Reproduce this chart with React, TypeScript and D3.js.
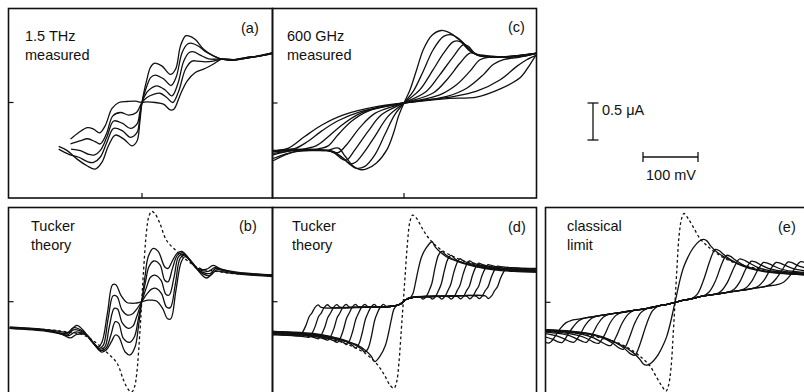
import { useEffect, useRef } from 'react'
import * as d3 from 'd3'

type Pt = [number, number] // [bias mV, current uA]

// (a) 1.5 THz measured
const thz1: Pt[] = [[-151.5,-0.594],[-136,-0.65],[-118,-0.765],[-100,-0.855],[-85,-0.9],[-73,-0.81],[-61,-0.585],[-48.5,-0.44],[-33,-0.495],[-18,-0.585],[-9,-0.52],[-4,-0.27],[0,0],[9,0.315],[15,0.47],[22,0.53],[36,0.495],[51.5,0.38],[61,0.45],[70,0.765],[79,0.9],[85,0.9],[97,0.85],[112,0.72],[130,0.63],[145,0.585],[167,0.576],[191,0.61],[215,0.63],[237,0.67]]
const thz2: Pt[] = [[-151.5,-0.63],[-133,-0.7],[-115,-0.74],[-99,-0.8],[-88,-0.81],[-76,-0.74],[-64,-0.54],[-51.5,-0.35],[-36,-0.38],[-21,-0.47],[-9,-0.405],[-4,-0.2],[0,0],[9,0.225],[16,0.34],[24,0.37],[39,0.32],[53,0.23],[62,0.34],[73,0.675],[83,0.79],[91,0.8],[103,0.76],[118,0.675],[133,0.62],[145,0.585],[167,0.576],[191,0.6],[215,0.63],[237,0.66]]
const thz3: Pt[] = [[-129,-0.63],[-112,-0.65],[-97,-0.7],[-87,-0.71],[-76,-0.65],[-64,-0.47],[-51.5,-0.25],[-36,-0.28],[-21,-0.35],[-9,-0.29],[-4,-0.135],[0,0],[9,0.14],[18,0.2],[27,0.225],[42,0.17],[54.5,0.09],[65,0.25],[76,0.56],[86,0.675],[94,0.685],[106,0.64],[121,0.59],[145,0.585],[167,0.57],[191,0.6],[215,0.63],[237,0.66]]
const thz4: Pt[] = [[-130,-0.56],[-113,-0.52],[-99,-0.49],[-85,-0.53],[-76,-0.56],[-65,-0.43],[-53,-0.18],[-39,-0.135],[-24,-0.17],[-10,-0.135],[0,0],[9,0.0675],[21,0.11],[33,0.125],[45,0.0675],[56,0],[67,0.16],[79,0.45],[91,0.56],[100,0.56],[115,0.55],[130,0.56],[145,0.585],[167,0.576],[191,0.6],[215,0.635],[237,0.67]]
const thz5: Pt[] = [[-130,-0.495],[-115,-0.405],[-99,-0.34],[-88,-0.36],[-77,-0.41],[-67,-0.315],[-54.5,-0.08],[-42,0],[-27,0.0135],[-12,0.018],[0,0],[9,0.009],[24,0],[39,-0.0225],[51.5,-0.1],[58,-0.09],[70,0.1125],[82,0.29],[97,0.405],[112,0.45],[130,0.52],[145,0.585],[167,0.58],[191,0.61],[215,0.63],[237,0.67]]

// (b) Tucker theory at 1.5 THz
const tuckB0: Pt[] = [[-240,-0.36],[-173,-0.4],[-145,-0.44],[-130,-0.49],[-118,-0.44],[-100,-0.45],[-85,-0.59],[-73,-0.68],[-64,-0.65],[-55,-0.54],[-48,-0.45],[-42,-0.47],[-30,-0.68],[-21,-0.72],[-12,-0.61],[-6,-0.34],[0,0],[6,0.34],[12,0.61],[21,0.72],[30,0.68],[42,0.47],[48,0.45],[55,0.54],[64,0.65],[73,0.68],[85,0.59],[100,0.45],[118,0.44],[130,0.49],[145,0.44],[173,0.4],[240,0.36]]
const tuckB1: Pt[] = [[-240,-0.36],[-173,-0.39],[-148,-0.43],[-133,-0.46],[-121,-0.41],[-101,-0.45],[-87,-0.57],[-75,-0.66],[-65,-0.63],[-56,-0.45],[-48,-0.27],[-42,-0.29],[-33,-0.5],[-22,-0.55],[-13,-0.47],[-7,-0.27],[0,0],[7,0.27],[13,0.47],[22,0.55],[33,0.5],[42,0.29],[48,0.27],[56,0.45],[65,0.63],[75,0.66],[87,0.57],[101,0.45],[121,0.41],[133,0.46],[148,0.43],[173,0.39],[240,0.36]]
const tuckB2: Pt[] = [[-240,-0.35],[-176,-0.38],[-152,-0.42],[-135,-0.45],[-124,-0.38],[-103,-0.43],[-88,-0.55],[-76,-0.64],[-67,-0.61],[-59,-0.34],[-50,-0.09],[-44,-0.1],[-35,-0.29],[-24,-0.36],[-16,-0.33],[-9,-0.2],[0,0],[9,0.2],[16,0.33],[24,0.36],[35,0.29],[44,0.1],[50,0.09],[59,0.34],[67,0.61],[76,0.64],[88,0.55],[103,0.43],[124,0.38],[135,0.45],[152,0.42],[176,0.38],[240,0.35]]
const tuckB3: Pt[] = [[-240,-0.35],[-179,-0.38],[-155,-0.41],[-136,-0.43],[-124,-0.35],[-105,-0.41],[-90,-0.54],[-78,-0.63],[-70,-0.59],[-61,-0.23],[-52,0.08],[-45,0.07],[-36,-0.11],[-26,-0.18],[-18,-0.17],[-10,-0.11],[0,0],[10,0.11],[18,0.17],[26,0.18],[36,0.11],[45,-0.07],[52,-0.08],[61,0.23],[70,0.59],[78,0.63],[90,0.54],[105,0.41],[124,0.35],[136,0.43],[155,0.41],[179,0.38],[240,0.35]]
const tuckB4: Pt[] = [[-240,-0.34],[-182,-0.37],[-158,-0.39],[-133,-0.41],[-118,-0.32],[-106,-0.39],[-92,-0.53],[-79,-0.61],[-72,-0.54],[-62,-0.14],[-53,0.23],[-47,0.23],[-38,0.09],[-27,-0.01],[-20,-0.02],[-12,-0.02],[0,0],[12,0.02],[20,0.02],[27,0.01],[38,-0.09],[47,-0.23],[53,-0.23],[62,0.14],[72,0.54],[79,0.61],[92,0.53],[106,0.39],[118,0.32],[133,0.41],[158,0.39],[182,0.37],[240,0.34]]
const tuckBDark: Pt[] = [[-240,-0.36],[-167,-0.38],[-136,-0.41],[-106,-0.45],[-82,-0.56],[-64,-0.68],[-45,-0.83],[-33,-1.06],[-24,-1.19],[-18,-1.22],[-13,-1.15],[-9,-0.97],[-3,-0.38],[0,0],[3,0.38],[9,0.97],[13,1.15],[18,1.22],[24,1.19],[33,1.06],[45,0.83],[64,0.68],[82,0.56],[106,0.45],[136,0.41],[167,0.38],[240,0.36]]

// (c) 600 GHz measured
const ghz1: Pt[] = [[-238,-0.65],[-201,-0.62],[-171,-0.64],[-141,-0.64],[-119,-0.61],[-107,-0.72],[-92,-0.855],[-80,-0.9],[-68,-0.89],[-50,-0.81],[-31,-0.63],[-19,-0.405],[-10,-0.18],[0,0],[11,0.18],[23,0.45],[35,0.72],[50,0.91],[68,0.98],[84,0.945],[96,0.88],[108,0.81],[126,0.675],[150,0.64],[193,0.62],[223,0.64],[242,0.675]]
const ghz2: Pt[] = [[-238,-0.7],[-200,-0.64],[-160,-0.64],[-135,-0.65],[-115,-0.72],[-100,-0.82],[-88,-0.88],[-72,-0.86],[-53,-0.7],[-35,-0.43],[-17,-0.16],[0,0],[17,0.16],[35,0.43],[53,0.72],[72,0.9],[87,0.92],[102,0.855],[120,0.72],[138,0.64],[175,0.62],[223,0.64],[242,0.675]]
const ghz3: Pt[] = [[-238,-0.75],[-200,-0.66],[-160,-0.64],[-130,-0.65],[-110,-0.75],[-98,-0.82],[-88,-0.8],[-72,-0.66],[-53,-0.45],[-29,-0.18],[0,0],[29,0.18],[53,0.45],[72,0.675],[90,0.83],[102,0.83],[120,0.7],[138,0.64],[175,0.62],[242,0.675]]
const ghz4: Pt[] = [[-238,-0.78],[-200,-0.66],[-160,-0.64],[-130,-0.66],[-112,-0.76],[-104,-0.77],[-90,-0.64],[-65,-0.38],[-41,-0.16],[0,0],[41,0.16],[65,0.38],[90,0.63],[108,0.79],[117,0.765],[132,0.65],[162,0.62],[242,0.675]]
const ghz5: Pt[] = [[-238,-0.68],[-180,-0.63],[-140,-0.64],[-120,-0.67],[-104,-0.56],[-80,-0.33],[-53,-0.14],[0,0],[53,0.135],[78,0.315],[102,0.54],[120,0.675],[138,0.64],[175,0.62],[242,0.675]]
const ghz6: Pt[] = [[-238,-0.66],[-190,-0.63],[-156,-0.62],[-138,-0.58],[-120,-0.43],[-96,-0.25],[-65,-0.11],[0,0],[65,0.11],[96,0.25],[120,0.43],[138,0.585],[156,0.62],[199,0.63],[242,0.675]]
const ghz7: Pt[] = [[-238,-0.65],[-190,-0.63],[-160,-0.58],[-140,-0.47],[-115,-0.31],[-85,-0.16],[-45,-0.06],[0,0],[78,0.09],[114,0.2],[144,0.38],[162,0.52],[181,0.585],[211,0.62],[242,0.675]]
const ghz8: Pt[] = [[-238,-0.64],[-200,-0.62],[-175,-0.52],[-150,-0.38],[-120,-0.24],[-80,-0.12],[0,0],[84,0.08],[132,0.16],[175,0.315],[205,0.495],[223,0.585],[242,0.65]]
const ghz9: Pt[] = [[-238,-0.65],[-210,-0.61],[-180,-0.45],[-150,-0.3],[-110,-0.16],[-50,-0.05],[0,0],[78,0.06],[132,0.08],[175,0.19],[211,0.34],[229,0.52],[242,0.675]]

// (d) Tucker theory at 600 GHz
const tuckD0: Pt[] = [[-243,-0.41],[-200,-0.42],[-164,-0.44],[-133,-0.48],[-103,-0.54],[-85,-0.58],[-67,-0.67],[-58,-0.74],[-52,-0.81],[-41,-0.72],[-33,-0.6],[-27,-0.43],[-22,-0.25],[-17,-0.1],[-12,-0.05],[-5,-0.03],[0,0],[5,0.03],[12,0.05],[17,0.1],[22,0.25],[27,0.43],[33,0.6],[41,0.72],[52,0.81],[58,0.74],[67,0.67],[85,0.58],[103,0.54],[133,0.48],[164,0.44],[200,0.42],[243,0.41]]
const tuckD1: Pt[] = [[-243,-0.4],[-200,-0.41],[-164,-0.43],[-133,-0.47],[-103,-0.53],[-86,-0.59],[-76,-0.64],[-70,-0.68],[-64,-0.63],[-58,-0.47],[-52,-0.25],[-47,-0.15],[-42,-0.075],[-36,-0.035],[-30,-0.07],[-25,-0.065],[-12,-0.05],[-5,-0.03],[0,0],[5,0.03],[12,0.05],[25,0.065],[30,0.07],[36,0.035],[42,0.075],[47,0.15],[52,0.25],[58,0.47],[64,0.63],[70,0.68],[76,0.64],[86,0.59],[103,0.53],[133,0.47],[164,0.43],[200,0.41],[243,0.4]]
const tuckD2: Pt[] = [[-243,-0.4],[-180,-0.43],[-145,-0.46],[-120,-0.5],[-103,-0.54],[-93,-0.585],[-87,-0.625],[-81,-0.575],[-75,-0.43],[-69,-0.24],[-64,-0.15],[-59,-0.075],[-53,-0.035],[-47,-0.07],[-25,-0.065],[-12,-0.05],[-5,-0.03],[0,0],[5,0.03],[12,0.05],[25,0.065],[47,0.07],[53,0.035],[59,0.075],[64,0.15],[69,0.24],[75,0.43],[81,0.575],[87,0.625],[93,0.585],[103,0.54],[120,0.5],[145,0.46],[180,0.43],[243,0.4]]
const tuckD3: Pt[] = [[-243,-0.41],[-175,-0.44],[-140,-0.48],[-119,-0.52],[-109,-0.55],[-103,-0.58],[-98,-0.53],[-92,-0.4],[-86,-0.23],[-81,-0.15],[-76,-0.075],[-70,-0.035],[-64,-0.07],[-45,-0.07],[-25,-0.065],[-12,-0.05],[-5,-0.03],[0,0],[5,0.03],[12,0.05],[25,0.065],[45,0.07],[64,0.07],[70,0.035],[76,0.075],[81,0.15],[86,0.23],[92,0.4],[98,0.53],[103,0.58],[109,0.55],[119,0.52],[140,0.48],[175,0.44],[243,0.41]]
const tuckD4: Pt[] = [[-243,-0.42],[-195,-0.43],[-160,-0.46],[-136,-0.5],[-126,-0.53],[-120,-0.55],[-115,-0.5],[-109,-0.38],[-103,-0.22],[-98,-0.15],[-93,-0.075],[-87,-0.035],[-81,-0.07],[-50,-0.07],[-25,-0.065],[-12,-0.05],[-5,-0.03],[0,0],[5,0.03],[12,0.05],[25,0.065],[50,0.07],[81,0.07],[87,0.035],[93,0.075],[98,0.15],[103,0.22],[109,0.38],[115,0.5],[120,0.55],[126,0.53],[136,0.5],[160,0.46],[195,0.43],[243,0.42]]
const tuckD5: Pt[] = [[-243,-0.42],[-180,-0.45],[-155,-0.48],[-143,-0.505],[-137,-0.52],[-132,-0.47],[-126,-0.36],[-120,-0.21],[-115,-0.15],[-110,-0.077],[-104,-0.037],[-98,-0.072],[-60,-0.071],[-25,-0.065],[-12,-0.05],[-5,-0.03],[0,0],[5,0.03],[12,0.05],[25,0.065],[60,0.071],[98,0.072],[104,0.037],[110,0.077],[115,0.15],[120,0.21],[126,0.36],[132,0.47],[137,0.52],[143,0.505],[155,0.48],[180,0.45],[243,0.42]]
const tuckD6: Pt[] = [[-243,-0.43],[-205,-0.44],[-175,-0.46],[-160,-0.49],[-154,-0.5],[-149,-0.45],[-143,-0.35],[-137,-0.21],[-132,-0.15],[-127,-0.079],[-121,-0.039],[-115,-0.074],[-70,-0.072],[-25,-0.065],[-12,-0.05],[-5,-0.03],[0,0],[5,0.03],[12,0.05],[25,0.065],[70,0.072],[115,0.074],[121,0.039],[127,0.079],[132,0.15],[137,0.21],[143,0.35],[149,0.45],[154,0.5],[160,0.49],[175,0.46],[205,0.44],[243,0.43]]
const tuckD7: Pt[] = [[-243,-0.44],[-220,-0.45],[-195,-0.46],[-177,-0.475],[-171,-0.48],[-166,-0.43],[-160,-0.33],[-154,-0.2],[-149,-0.15],[-144,-0.081],[-138,-0.041],[-132,-0.076],[-80,-0.073],[-25,-0.065],[-12,-0.05],[-5,-0.03],[0,0],[5,0.03],[12,0.05],[25,0.065],[80,0.073],[132,0.076],[138,0.041],[144,0.081],[149,0.15],[154,0.2],[160,0.33],[166,0.43],[171,0.48],[177,0.475],[195,0.46],[220,0.45],[243,0.44]]
const tuckD8: Pt[] = [[-243,-0.45],[-215,-0.45],[-195,-0.46],[-188,-0.46],[-183,-0.41],[-177,-0.32],[-171,-0.2],[-166,-0.15],[-161,-0.083],[-155,-0.043],[-149,-0.078],[-90,-0.075],[-25,-0.065],[-12,-0.05],[-5,-0.03],[0,0],[5,0.03],[12,0.05],[25,0.065],[90,0.075],[149,0.078],[155,0.043],[161,0.083],[166,0.15],[171,0.2],[177,0.32],[183,0.41],[188,0.46],[195,0.46],[215,0.45],[243,0.45]]
const tuckDDark: Pt[] = [[-243,-0.44],[-194,-0.45],[-152,-0.48],[-115,-0.54],[-91,-0.61],[-67,-0.71],[-52,-0.81],[-42,-0.9],[-33,-1.01],[-24,-1.13],[-17,-1.17],[-12,-1.08],[-8,-0.83],[-3.6,-0.38],[0,0],[3.6,0.38],[8,0.83],[12,1.08],[17,1.17],[24,1.13],[33,1.01],[42,0.9],[52,0.81],[67,0.71],[91,0.61],[115,0.54],[152,0.48],[194,0.45],[243,0.44]]

// (e) classical limit
const clsE0: Pt[] = [[-240,-0.37],[-197,-0.39],[-161,-0.42],[-130,-0.48],[-100,-0.57],[-76,-0.68],[-64,-0.77],[-58,-0.83],[-52,-0.85],[-46,-0.835],[-39,-0.79],[-30,-0.7],[-21,-0.57],[-15,-0.46],[-9,-0.3],[-3,-0.1],[0,0],[3,0.1],[9,0.3],[15,0.46],[21,0.57],[30,0.7],[39,0.79],[46,0.835],[52,0.85],[58,0.83],[64,0.77],[76,0.68],[100,0.57],[130,0.48],[161,0.42],[197,0.39],[240,0.37]]
const clsE1: Pt[] = [[-240,-0.37],[-190,-0.39],[-150,-0.43],[-120,-0.5],[-100,-0.58],[-88,-0.65],[-80,-0.7],[-73,-0.715],[-69,-0.67],[-62,-0.53],[-51,-0.28],[-41,-0.115],[-30,-0.048],[-20,-0.035],[-10,-0.02],[0,0],[10,0.02],[20,0.035],[30,0.048],[41,0.115],[51,0.28],[62,0.53],[69,0.67],[73,0.715],[80,0.7],[88,0.65],[100,0.58],[120,0.5],[150,0.43],[190,0.39],[240,0.37]]
const clsE2: Pt[] = [[-240,-0.375],[-190,-0.4],[-150,-0.44],[-125,-0.5],[-110,-0.57],[-101,-0.62],[-94,-0.635],[-90,-0.6],[-83,-0.48],[-73,-0.28],[-62,-0.14],[-51,-0.085],[-40,-0.065],[-30,-0.048],[-20,-0.035],[-10,-0.02],[0,0],[10,0.02],[20,0.035],[30,0.048],[40,0.065],[51,0.085],[62,0.14],[73,0.28],[83,0.48],[90,0.6],[94,0.635],[101,0.62],[110,0.57],[125,0.5],[150,0.44],[190,0.4],[240,0.375]]
const clsE3: Pt[] = [[-240,-0.38],[-200,-0.4],[-170,-0.43],[-148,-0.48],[-133,-0.54],[-124,-0.575],[-117,-0.585],[-113,-0.55],[-106,-0.45],[-96,-0.28],[-85,-0.16],[-75,-0.11],[-60,-0.095],[-50,-0.083],[-40,-0.065],[-30,-0.048],[-20,-0.035],[-10,-0.02],[0,0],[10,0.02],[20,0.035],[30,0.048],[40,0.065],[50,0.083],[60,0.095],[75,0.11],[85,0.16],[96,0.28],[106,0.45],[113,0.55],[117,0.585],[124,0.575],[133,0.54],[148,0.48],[170,0.43],[200,0.4],[240,0.38]]
const clsE4: Pt[] = [[-240,-0.39],[-195,-0.42],[-170,-0.46],[-155,-0.51],[-146,-0.545],[-139,-0.555],[-135,-0.525],[-128,-0.44],[-118,-0.28],[-108,-0.18],[-97,-0.137],[-75,-0.11],[-60,-0.095],[-50,-0.083],[-40,-0.065],[-30,-0.048],[-20,-0.035],[-10,-0.02],[0,0],[10,0.02],[20,0.035],[30,0.048],[40,0.065],[50,0.083],[60,0.095],[75,0.11],[97,0.137],[108,0.18],[118,0.28],[128,0.44],[135,0.525],[139,0.555],[146,0.545],[155,0.51],[170,0.46],[195,0.42],[240,0.39]]
const clsE5: Pt[] = [[-240,-0.4],[-212,-0.42],[-192,-0.45],[-177,-0.5],[-168,-0.53],[-161,-0.54],[-157,-0.51],[-150,-0.43],[-140,-0.29],[-130,-0.2],[-119,-0.16],[-100,-0.14],[-75,-0.11],[-50,-0.083],[-30,-0.048],[-10,-0.02],[0,0],[10,0.02],[30,0.048],[50,0.083],[75,0.11],[100,0.14],[119,0.16],[130,0.2],[140,0.29],[150,0.43],[157,0.51],[161,0.54],[168,0.53],[177,0.5],[192,0.45],[212,0.42],[240,0.4]]
const clsE6: Pt[] = [[-240,-0.42],[-215,-0.455],[-200,-0.5],[-191,-0.53],[-184,-0.54],[-180,-0.515],[-173,-0.44],[-163,-0.31],[-152,-0.22],[-142,-0.187],[-120,-0.16],[-100,-0.14],[-75,-0.11],[-50,-0.083],[-30,-0.048],[-10,-0.02],[0,0],[10,0.02],[30,0.048],[50,0.083],[75,0.11],[100,0.14],[120,0.16],[142,0.187],[152,0.22],[163,0.31],[173,0.44],[180,0.515],[184,0.54],[191,0.53],[200,0.5],[215,0.455],[240,0.42]]
const clsE7: Pt[] = [[-240,-0.46],[-222,-0.5],[-213,-0.535],[-206,-0.545],[-202,-0.52],[-196,-0.45],[-185,-0.33],[-175,-0.25],[-165,-0.215],[-140,-0.185],[-120,-0.16],[-100,-0.14],[-75,-0.11],[-50,-0.083],[-30,-0.048],[-10,-0.02],[0,0],[10,0.02],[30,0.048],[50,0.083],[75,0.11],[100,0.14],[120,0.16],[140,0.185],[165,0.215],[175,0.25],[185,0.33],[196,0.45],[202,0.52],[206,0.545],[213,0.535],[222,0.5],[240,0.46]]
const clsE8: Pt[] = [[-245,-0.51],[-236,-0.54],[-229,-0.55],[-225,-0.53],[-218,-0.46],[-208,-0.35],[-198,-0.275],[-188,-0.243],[-165,-0.215],[-140,-0.185],[-120,-0.16],[-100,-0.14],[-75,-0.11],[-50,-0.083],[-30,-0.048],[-10,-0.02],[0,0],[10,0.02],[30,0.048],[50,0.083],[75,0.11],[100,0.14],[120,0.16],[140,0.185],[165,0.215],[188,0.243],[198,0.275],[208,0.35],[218,0.46],[225,0.53],[229,0.55],[236,0.54],[245,0.51]]
const clsEDark: Pt[] = [[-240,-0.39],[-197,-0.405],[-161,-0.44],[-130,-0.49],[-100,-0.56],[-76,-0.66],[-57.6,-0.77],[-45.5,-0.86],[-33,-1.02],[-24,-1.13],[-16.4,-1.2],[-12,-1.13],[-7.3,-0.89],[-3,-0.39],[0,0],[3,0.39],[7.3,0.89],[12,1.13],[16.4,1.2],[24,1.13],[33,1.02],[45.5,0.86],[57.6,0.77],[76,0.66],[100,0.56],[130,0.49],[161,0.44],[197,0.405],[240,0.39]]

const PX_PER_MV = 0.55
const PX_PER_UA = 74

interface Panel {
  key: string
  left: number
  right: number
  top: number
  bottom: number
  x0: number
  y0: number
  curves: Pt[][]
  dashed?: Pt[]
  title: string[]
  titleX: number
  titleY: number
  tag: string
  tagX: number
  tagY: number
  bottomTick: boolean
}

const panels: Panel[] = [
  { key: 'a', left: 8.5, right: 272.5, top: 8.5, bottom: 198, x0: 142, y0: 102.5,
    curves: [thz1, thz2, thz3, thz4, thz5], title: ['1.5 THz', 'measured'],
    titleX: 25, titleY: 40.5, tag: '(a)', tagX: 241, tagY: 33, bottomTick: true },
  { key: 'c', left: 272.5, right: 536.5, top: 8.5, bottom: 198, x0: 404, y0: 103,
    curves: [ghz1, ghz2, ghz3, ghz4, ghz5, ghz6, ghz7, ghz8, ghz9], title: ['600 GHz', 'measured'],
    titleX: 287, titleY: 40.5, tag: '(c)', tagX: 508, tagY: 32, bottomTick: true },
  { key: 'b', left: 8.5, right: 272.5, top: 207.5, bottom: 400, x0: 141.7, y0: 301.7,
    curves: [tuckB0, tuckB1, tuckB2, tuckB3, tuckB4], dashed: tuckBDark, title: ['Tucker', 'theory'],
    titleX: 31, titleY: 230.5, tag: '(b)', tagX: 239, tagY: 231, bottomTick: false },
  { key: 'd', left: 272.5, right: 536.5, top: 207.5, bottom: 400, x0: 403.3, y0: 301.7,
    curves: [tuckD0, tuckD1, tuckD2, tuckD3, tuckD4, tuckD5, tuckD6, tuckD7, tuckD8], dashed: tuckDDark,
    title: ['Tucker', 'theory'], titleX: 292, titleY: 230.5, tag: '(d)', tagX: 508, tagY: 232, bottomTick: false },
  { key: 'e', left: 545.5, right: 812, top: 207.5, bottom: 400, x0: 675, y0: 302.3,
    curves: [clsE0, clsE1, clsE2, clsE3, clsE4, clsE5, clsE6, clsE7, clsE8], dashed: clsEDark,
    title: ['classical', 'limit'], titleX: 567, titleY: 230.5, tag: '(e)', tagX: 778, tagY: 232, bottomTick: false },
]

const FONT = 'Liberation Sans, Arial, Helvetica, sans-serif'

export default function App() {
  const svgRef = useRef<SVGSVGElement>(null)

  useEffect(() => {
    if (!svgRef.current) return
    const svg = d3.select(svgRef.current)
    svg.selectAll('*').remove()

    svg.append('rect').attr('width', 804).attr('height', 392).attr('fill', '#fff')
    const defs = svg.append('defs')

    panels.forEach(p => {
      const x = d3.scaleLinear()
        .domain([(p.left - p.x0) / PX_PER_MV, (p.right - p.x0) / PX_PER_MV])
        .range([p.left, p.right])
      const y = d3.scaleLinear()
        .domain([(p.y0 - p.bottom) / PX_PER_UA, (p.y0 - p.top) / PX_PER_UA])
        .range([p.bottom, p.top])

      defs.append('clipPath').attr('id', `clip-${p.key}`)
        .append('rect')
        .attr('x', p.left).attr('y', p.top)
        .attr('width', p.right - p.left).attr('height', p.bottom - p.top)

      const line = d3.line<Pt>()
        .x(d => x(d[0]))
        .y(d => y(d[1]))
        .curve(d3.curveCatmullRom.alpha(0.5))

      const g = svg.append('g').attr('clip-path', `url(#clip-${p.key})`)

      if (p.dashed) {
        g.append('path')
          .attr('d', line(p.dashed)!)
          .attr('fill', 'none')
          .attr('stroke', '#111')
          .attr('stroke-width', 1.3)
          .attr('stroke-dasharray', '2.8,2.6')
      }

      g.selectAll('.curve')
        .data(p.curves)
        .enter()
        .append('path')
        .attr('d', d => line(d)!)
        .attr('fill', 'none')
        .attr('stroke', '#111')
        .attr('stroke-width', 1.3)

      // frame
      svg.append('rect')
        .attr('x', p.left).attr('y', p.top)
        .attr('width', p.right - p.left).attr('height', p.bottom - p.top)
        .attr('fill', 'none').attr('stroke', '#111').attr('stroke-width', 1.6)

      // zero ticks
      svg.append('line')
        .attr('x1', p.left).attr('x2', p.left + 5)
        .attr('y1', y(0)).attr('y2', y(0))
        .attr('stroke', '#111').attr('stroke-width', 1.2)
      if (p.bottomTick) {
        svg.append('line')
          .attr('x1', x(0)).attr('x2', x(0))
          .attr('y1', p.bottom).attr('y2', p.bottom - 5)
          .attr('stroke', '#111').attr('stroke-width', 1.2)
      }

      const txt = svg.append('text')
        .attr('x', p.titleX).attr('y', p.titleY)
        .attr('font-family', FONT).attr('font-size', 14.5).attr('fill', '#111')
      p.title.forEach((t, i) => {
        txt.append('tspan').attr('x', p.titleX).attr('dy', i === 0 ? 0 : 19.5).text(t)
      })

      svg.append('text')
        .attr('x', p.tagX).attr('y', p.tagY)
        .attr('font-family', FONT).attr('font-size', 14.5).attr('fill', '#111')
        .text(p.tag)
    })

    // scale bars
    const barY = d3.scaleLinear().domain([0, 0.5]).range([140, 140 - 0.5 * PX_PER_UA])
    const barX = d3.scaleLinear().domain([0, 100]).range([643, 643 + 100 * PX_PER_MV])
    const sb = svg.append('g').attr('stroke', '#111').attr('stroke-width', 1.3)
    sb.append('line').attr('x1', 593).attr('x2', 593).attr('y1', barY(0)).attr('y2', barY(0.5))
    sb.append('line').attr('x1', 587.5).attr('x2', 598.5).attr('y1', barY(0)).attr('y2', barY(0))
    sb.append('line').attr('x1', 587.5).attr('x2', 598.5).attr('y1', barY(0.5)).attr('y2', barY(0.5))
    sb.append('line').attr('x1', barX(0)).attr('x2', barX(100)).attr('y1', 157).attr('y2', 157)
    sb.append('line').attr('x1', barX(0)).attr('x2', barX(0)).attr('y1', 152).attr('y2', 162)
    sb.append('line').attr('x1', barX(100)).attr('x2', barX(100)).attr('y1', 152).attr('y2', 162)

    svg.append('text').attr('x', 602).attr('y', 115)
      .attr('font-family', FONT).attr('font-size', 14.5).attr('fill', '#111')
      .text('0.5 \u03bcA')
    svg.append('text').attr('x', 646).attr('y', 180)
      .attr('font-family', FONT).attr('font-size', 14.5).attr('fill', '#111')
      .text('100 mV')
  }, [])

  return (
    <svg
      ref={svgRef}
      width={804}
      height={392}
      style={{ position: 'absolute', left: 0, top: 0, display: 'block' }}
    />
  )
}
